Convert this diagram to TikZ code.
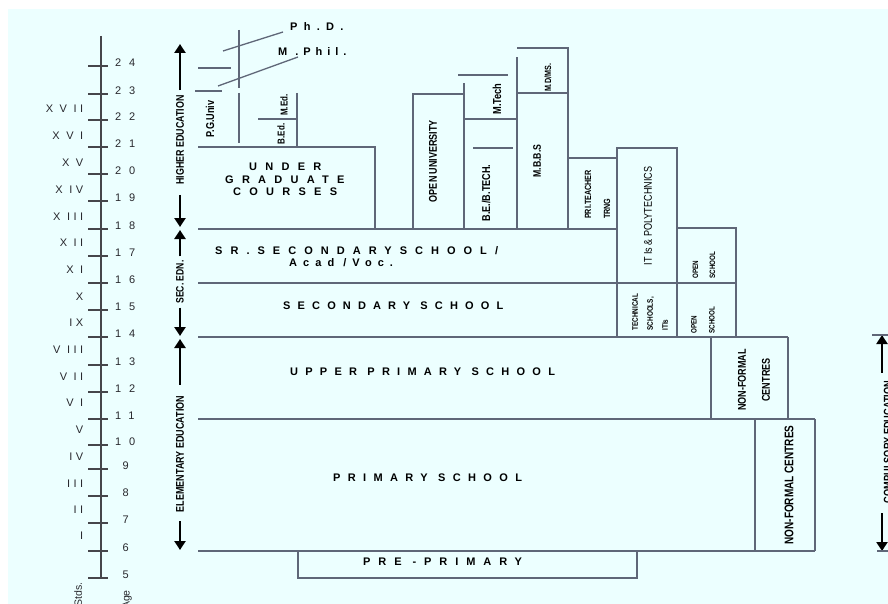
\documentclass[tikz,border=0pt]{standalone}
\usepackage{fontspec}
\setmainfont{Liberation Sans}
\newfontfamily\nf[FakeStretch=0.8]{Liberation Sans}
\usetikzlibrary{arrows.meta}
\definecolor{bgc}{RGB}{236,255,255}
\definecolor{linec}{RGB}{95,103,120}
\definecolor{axisc}{RGB}{70,70,75}
\definecolor{txtc}{RGB}{40,40,45}
\begin{document}
\begin{tikzpicture}[x=1pt,y=-1pt,
  ln/.style={draw=linec,line width=1.3pt},
  ax/.style={draw=axisc,line width=1.3pt},
  arr/.style={line width=2.6pt,-{Triangle[width=11pt,length=9pt]}},
  sp/.style={inner sep=0pt,anchor=west,font=\bfseries\fontsize{11}{13}\selectfont\addfontfeature{LetterSpace=#1}},
  vt/.style={inner sep=0pt,rotate=90,font=\nf\bfseries\fontsize{#1}{#1}\selectfont},
  vtm/.style 2 args={inner sep=0pt,rotate=90,align=left,font=\nf\bfseries\fontsize{#1}{#2}\selectfont},
  vtc/.style 2 args={inner sep=0pt,rotate=90,align=center,font=\nf\bfseries\fontsize{#1}{#2}\selectfont},
  num/.style={inner sep=0pt,anchor=west,text=txtc,font=\fontsize{11}{12}\selectfont\addfontfeature{LetterSpace=72}},
  rom/.style={inner sep=0pt,anchor=east,text=txtc,font=\fontsize{11}{12}\selectfont\addfontfeature{LetterSpace=32}},
]
\useasboundingbox (0,0) rectangle (888,604);
\fill[white] (0,0) rectangle (888,604);
\fill[bgc] (8,9) rectangle (888,604);

% axis
\draw[ax] (101,36) -- (101,578);
\foreach \a/\y in {24/66,23/94,22/120,21/147,20/174,19/201,18/229,17/256,16/283,15/310,14/337,13/365,12/392,11/419,10/445,9/469,8/496,7/523,6/551,5/578}{
  \draw[ax] (88,\y) -- (108,\y);
  \ifnum\a>9 \def\xx{115}\else\def\xx{122.5}\fi
  \node[num] (n\a) at (\xx,\y-3) {\a};
}
\foreach \r/\y in {X V II/109, X V I/136, X V/163, X IV/190, X III/217, X II/243, X I/270, X/297, IX/323, V III/350, V II/377, V I/403, V/430, IV/457, III/484, II/510, I/536}{
  \node[rom] (r\y) at (83.5,\y) {\r};
}
\node[inner sep=0pt,anchor=east,rotate=90,text=txtc,font=\fontsize{10.5}{12}\selectfont] (stds) at (78,582) {Stds.};
\node[inner sep=0pt,anchor=east,rotate=90,text=txtc,font=\fontsize{10.5}{12}\selectfont] (age) at (127,590) {Age};

% education arrows
\node[vt=11.1] (he) at (180,140) {HIGHER EDUCATION};
\node[vt=10.75] (se) at (180,282) {SEC. EDN.};
\node[vt=11.25] (ee) at (180,454) {ELEMENTARY EDUCATION};
\coordinate (heU) at (180,44); \coordinate (heD) at (180,227);
\coordinate (seU) at (180,230); \coordinate (seD) at (180,336);
\coordinate (eeU) at (180,339); \coordinate (eeD) at (180,550);
\draw[arr,shorten <=5pt] (he.east) -- (heU);
\draw[arr,shorten <=10pt] (he.west) -- (heD);
\draw[arr,shorten <=4pt] (se.east) -- (seU);
\draw[arr,shorten <=4pt] (se.west) -- (seD);
\draw[arr,shorten <=11pt] (ee.east) -- (eeU);
\draw[arr,shorten <=9pt] (ee.west) -- (eeD);

\node[vt=11.5] (ce) at (888,442) {COMPULSORY EDUCATION};
\coordinate (ceU) at (882,335); \coordinate (ceD) at (882,551);
\draw[arr,shorten <=8pt] (ce.east -| ceU) -- (ceU);
\draw[arr,shorten <=10pt] (ce.west -| ceD) -- (ceD);
\draw[ln] (872,335) -- (888,335);
\draw[ln] (877,551) -- (888,551);

% boxes
\draw[ln] (198,147) -- (375,147) -- (375,229);
\draw[ln] (198,229) -- (617,229);
\draw[ln] (198,283) -- (736,283);
\draw[ln] (198,337) -- (788,337);
\draw[ln] (198,419) -- (815,419);
\draw[ln] (198,551) -- (815,551);
\draw[ln] (413,229) -- (413,94) -- (464,94);
\draw[ln] (464,229) -- (464,83);
\draw[ln] (458,75) -- (508,75);
\draw[ln] (464,119) -- (517,119);
\draw[ln] (473,148) -- (513,148);
\draw[ln] (517,229) -- (517,57);
\draw[ln] (517,93) -- (568,93);
\draw[ln] (517,48) -- (568,48) -- (568,229);
\draw[ln] (568,158) -- (617,158);
\draw[ln] (617,337) -- (617,148) -- (677,148) -- (677,337);
\draw[ln] (677,228) -- (736,228) -- (736,337);
\draw[ln] (711,337) -- (711,419);
\draw[ln] (788,337) -- (788,419);
\draw[ln] (755,419) -- (755,551);
\draw[ln] (815,419) -- (815,551);
\draw[ln] (298,551) rectangle (637,578);
% PG lines
\draw[ln] (239,30) -- (239,88);
\draw[ln] (239,93) -- (239,143);
\draw[ln] (198,68) -- (231,68);
\draw[ln] (195,91) -- (222,91);
\draw[ln] (223,51) -- (283,32);
\draw[ln] (218,86) -- (298,57);
\draw[ln] (297,93) -- (297,147);
\draw[ln] (258,119) -- (297,119);

% texts
\node[sp=75] (ug1) at (249,167) {UNDER};
\node[sp=75] (ug2) at (225,180) {GRADUATE};
\node[sp=75] (ug3) at (233,192) {COURSES};
\node[sp=73] (srs) at (215,251) {SR.SECONDARYSCHOOL/};
\node[sp=55] (acad) at (289,263) {Acad /Voc.};
\node[sp=65] (sec) at (283,306) {SECONDARY SCHOOL};
\node[sp=66] (ups) at (290,372) {UPPER PRIMARY SCHOOL};
\node[sp=67] (prs) at (333,478) {PRIMARY SCHOOL};
\node[sp=72] (pre) at (363,562) {PRE -PRIMARY};
\node[sp=57] (phd) at (290,27) {Ph.D.};
\node[sp=45] (mphil) at (278,52) {M .Phil.};

\node[vt=11.4] (pg) at (210,119) {P.G.Univ};
\node[vt=10] (bed) at (281,134) {B.Ed.};
\node[vt=10] (med) at (284,105) {M.Ed.};
\node[vt=11.25] (ou) at (433,161) {OPEN UNIVERSITY};
\node[vt=11.4] (be) at (486,193) {B.E./B.TECH.};
\node[vt=11.6] (mt) at (497,99) {M.Tech};
\node[vt=10.9] (mbbs) at (537,161) {M.B.B.S};
\node[vt=9] (md) at (548,78) {M.D/MS.};
\node[vtm={9}{19}] (pri) at (597.5,194.5) {PRI.TEACHER\\TRNG};
\node[inner sep=0pt,rotate=90,font=\nf\fontsize{11.3}{12}\selectfont] (iti) at (648,216) {IT Is \& POLYTECHNICS};
\node[vtm={7.8}{17}] (os1) at (704,265) {OPEN\\SCHOOL};
\node[vtm={7.8}{18}] (os2) at (703,320) {OPEN\\SCHOOL};
\node[vtm={8}{15}] (tech) at (650,312) {TECHNICAL\\SCHOOLS,\\ITIs};
\node[vtc={11.3}{24}] (nf1) at (754,380) {NON-FORMAL\\CENTRES};
\node[vt=12.5] (nf2) at (789,485) {NON-FORMAL CENTRES};
\end{tikzpicture}
\end{document}
